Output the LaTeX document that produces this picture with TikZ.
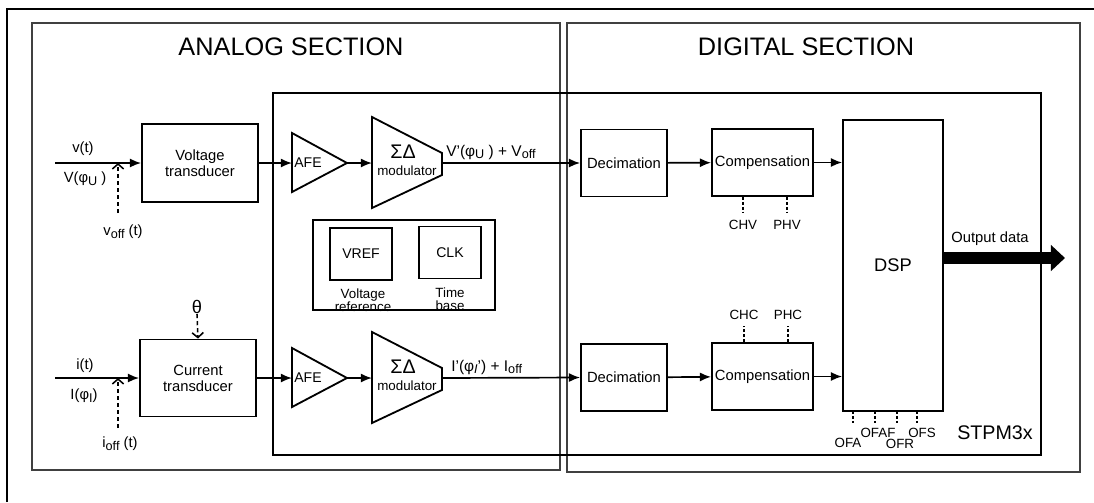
\documentclass[tikz,border=0pt]{standalone}
\usepackage{fontspec}
\setmainfont{Liberation Sans}
\usetikzlibrary{arrows.meta,positioning}

\newcommand{\lowsub}[1]{\raisebox{-0.35ex}{\fontsize{9}{9}\selectfont #1}}

\tikzset{
  blk/.style={draw, line width=1.3pt, inner sep=0pt, align=center, font=\fontsize{10.5}{11.5}\selectfont},
  sig/.style={line width=1.2pt, -{Latex[length=8pt,width=6.5pt]}},
  offs/.style={line width=1.1pt, dash pattern=on 3pt off 2pt, -{Straight Barb[length=3.5pt,width=8pt]}},
  stub/.style={line width=1.1pt, dash pattern=on 2pt off 1.5pt},
  lbl/.style={font=\fontsize{10.5}{11}\selectfont, inner sep=0pt},
  smalllbl/.style={font=\fontsize{9.5}{10}\selectfont, inner sep=0pt},
  sect/.style={draw=black!75, line width=1pt},
}

\begin{document}
\begin{tikzpicture}[x=0.025cm, y=-0.025cm]
\useasboundingbox (0,0) rectangle (1094,502);

% frames
\draw[line width=1.5pt] (7,502) -- (7,9) -- (1094,9);
\draw[sect] (32,23) rectangle (560,470);
\draw[sect] (567,23) rectangle (1080,472);
\draw[line width=1.3pt] (273,93) rectangle (1041,455);
\node[font=\fontsize{18}{18}\selectfont] (antitle) at (291,47) {ANALOG SECTION};
\node[font=\fontsize{18}{18}\selectfont] (dititle) at (806,47) {DIGITAL SECTION};
\node[font=\fontsize{14}{14}\selectfont] (chip) at (995,433) {STPM3x};

% transducers
\node[blk, minimum width=2.9cm, minimum height=1.95cm] (vtr) at (200,163) {Voltage\\transducer};
\node[blk, minimum width=2.9cm, minimum height=1.925cm] (itr) at (198,378) {Current\\transducer};

% AFE and sigma-delta, one per channel
\foreach \y/\n in {163/v, 378/i} {
  \draw[line width=1.3pt] (292,\y-30) -- (347,\y) -- (292,\y+29) -- cycle;
  \draw[line width=1.3pt] (372,\y-46) -- (442,\y-10) -- (442,\y+12) -- (372,\y+45) -- cycle;
  \coordinate (afe\n in) at (292,\y);
  \coordinate (afe\n out) at (347,\y);
  \coordinate (mod\n in) at (372,\y);
  \coordinate (mod\n out) at (442,\y);
  \node[lbl, font=\fontsize{10}{10}\selectfont] (afe\n) at (308,\y) {AFE};
  \node[lbl, font=\fontsize{14}{14}\selectfont] (sd\n) at (403,\y-11) {ΣΔ};
  \node[lbl, font=\fontsize{9.5}{10}\selectfont] (modtxt\n) at (407,\y+8) {modulator};
}

% references
\draw[line width=1.3pt] (313,220) rectangle (495,310);
\node[blk, minimum width=1.55cm, minimum height=1.3cm, font=\fontsize{10}{10}\selectfont] (vref) at (361,254) {VREF};
\node[blk, minimum width=1.55cm, minimum height=1.3cm, font=\fontsize{10}{10}\selectfont] (clk) at (450,252.5) {CLK};
\node[lbl, align=center, font=\fontsize{9.5}{9}\selectfont] (vreftxt) at (363,300) {Voltage\\reference};
\node[lbl, align=center, font=\fontsize{9.5}{9}\selectfont] (clktxt) at (450,299) {Time\\base};

% digital blocks
\node[blk, minimum width=2.15cm, minimum height=1.675cm] (decv) at (624,163) {Decimation};
\node[blk, minimum width=2.15cm, minimum height=1.675cm] (deci) at (624,377.5) {Decimation};
\node[blk, minimum width=2.525cm, minimum height=1.675cm] (compv) at (762.5,162.5) {Compensation};
\node[blk, minimum width=2.525cm, minimum height=1.675cm] (compi) at (762.5,376.5) {Compensation};
\node[blk, minimum width=2.5cm, minimum height=7.275cm, font=\fontsize{13}{13}\selectfont] (dsp) at (893,265.5) {DSP};

% voltage channel
\coordinate (vin) at (55,163);
\coordinate (voff) at (118,213);
\draw[sig] (vin) -- (vtr.west);
\draw[offs] (voff) -- (voff |- vin);
\node[lbl] (vt) at (83,149) {v(t)};
\node[lbl] (vphi) at (85,179) {V(φ\lowsub{U} )};
\node[lbl] (vofft) at (123,232) {v\lowsub{off} (t)};
\draw[sig] (vtr.east) -- (afevin);
\draw[sig] (afevout) -- (modvin);
\draw[sig] (modvout) -- (decv.west);
\node[lbl, anchor=west, font=\fontsize{11}{11}\selectfont] (vsum) at (446,152) {V'(φ\lowsub{U} ) + V\lowsub{off}};
\draw[sig] (decv) -- (compv);
\draw[sig] (compv.east) -- (compv.east -| dsp.west);

% current channel
\coordinate (iin) at (55,378);
\coordinate (ioff) at (118,428);
\draw[sig] (iin) -- (itr.west);
\draw[offs] (ioff) -- (ioff |- iin);
\node[lbl] (it) at (85,366) {i(t)};
\node[lbl] (iphi) at (84,396) {I(φ\lowsub{I})};
\node[lbl] (iofft) at (120,444) {i\lowsub{off} (t)};
\node[lbl, font=\fontsize{13}{13}\selectfont] (theta) at (197,307) {θ};
\draw[offs] (theta.south) -- (itr.north);
\draw[sig] (itr.east) -- (afeiin);
\draw[sig] (afeiout) -- (modiin);
\draw[sig] (modiout) -- (deci.west);
\node[lbl, anchor=west, font=\fontsize{11}{11}\selectfont] (isum) at (451,367) {I'(φ\lowsub{\textit{I}}') + I\lowsub{off}};
\draw[sig] (deci) -- (compi);
\draw[sig] (compi.east) -- (compi.east -| dsp.west);

% calibration inputs
\foreach \x/\t in {743/CHV, 787/PHV} {
  \node[smalllbl] (\t) at (\x,225) {\t};
  \draw[stub] (compv.south -| \t) -- ++(0,16);
}
\foreach \x/\t in {744/CHC, 788/PHC} {
  \node[smalllbl] (\t) at (\x,315) {\t};
  \draw[stub] (compi.north -| \t) -- ++(0,-16);
}
\foreach \x/\t/\lx/\ly in {853/OFA/848/443, 875/OFAF/878/433, 897/OFR/900/444, 917/OFS/922/433} {
  \node[smalllbl] (\t) at (\lx,\ly) {\t};
  \draw[stub] (\x,411) -- (\x,423);
}

% output
\coordinate (out) at (1065,258);
\draw[line width=9pt, -{Triangle[length=10pt 0, width=18pt 0]}] (dsp.east |- out) -- (out);
\node[lbl] (outtxt) at (990,239) {Output data};
\end{tikzpicture}
\end{document}
